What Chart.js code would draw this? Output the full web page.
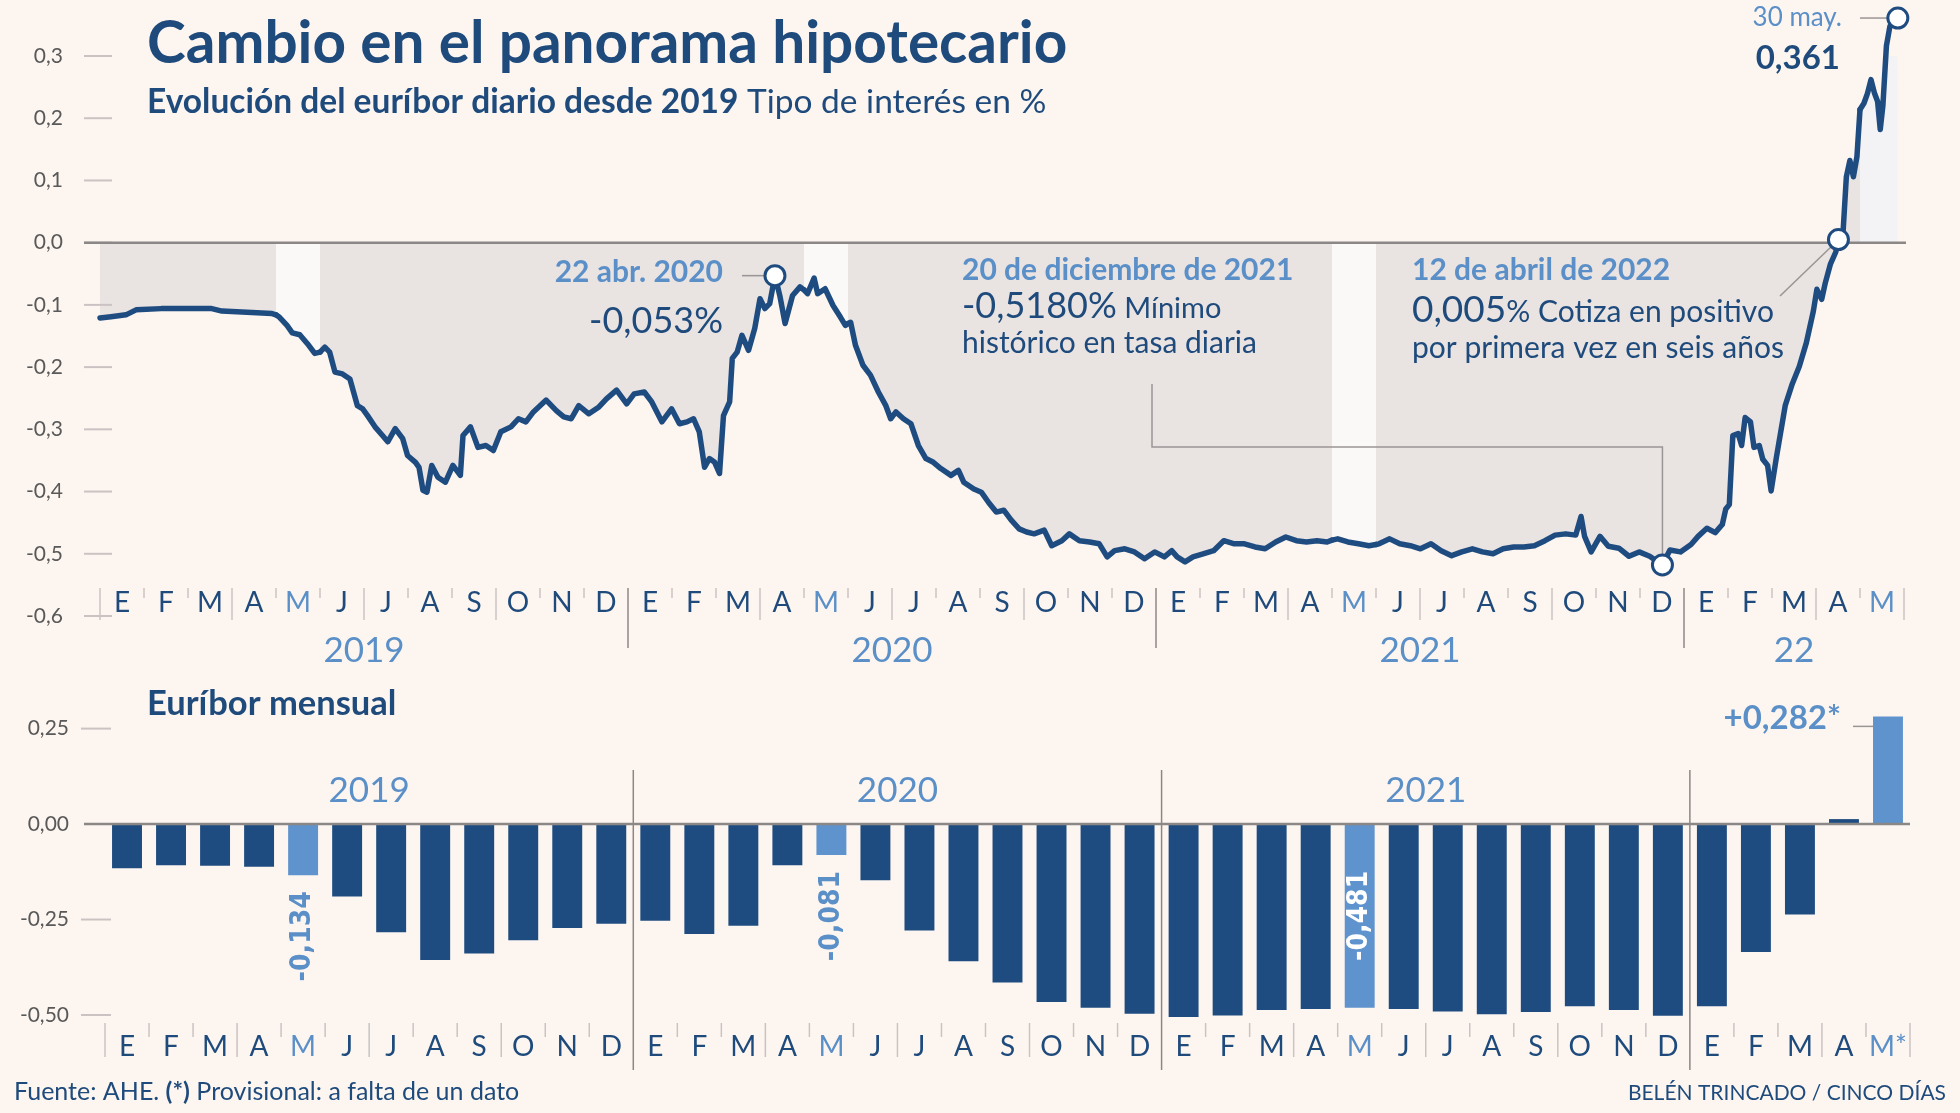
<!DOCTYPE html>
<html lang="es">
<head>
<meta charset="utf-8">
<title>Cambio en el panorama hipotecario</title>
<script src="https://cdn.jsdelivr.net/npm/chart.js@4.4.1/dist/chart.umd.min.js"></script>
<style>
  html,body{margin:0;padding:0;background:#fdf6f0;}
  #wrap{position:relative;width:1960px;height:1113px;overflow:hidden;background:#fdf6f0;}
  canvas{position:absolute;left:0;display:block;}
  #daily{top:0;width:1960px;height:680px;}
  #monthly{top:680px;width:1960px;height:433px;}
</style>
</head>
<body>
<div id="wrap">
  <canvas id="daily" width="1960" height="680"></canvas>
  <canvas id="monthly" width="1960" height="433"></canvas>
</div>
<script>
// ---------------- DATA ----------------
const monthLetters = ['E','F','M','A','M','J','J','A','S','O','N','D'];
const dailyYearLabels = ['2019','2020','2021','22'];
const monthlyYearLabels = ['2019','2020','2021'];
const dailyTicks = [0.3,0.2,0.1,0,-0.1,-0.2,-0.3,-0.4,-0.5,-0.6];
const dailyTickLabels = ['0,3','0,2','0,1','0,0','-0,1','-0,2','-0,3','-0,4','-0,5','-0,6'];
const monthlyTicks = [0.25,0,-0.25,-0.5];
const monthlyTickLabels = ['0,25','0,00','-0,25','-0,50'];

// Daily euribor: month of the year (decimal, 0 = 1 Jan) and rate in %
const t2019 = [0.00,0.25,0.59,0.82,1.39,1.97,2.54,2.77,3.11,3.68,3.91,4.00,4.08,4.25,4.37,4.54,4.71,4.88,5.00,5.11,5.22,5.34,5.51,5.68,5.85,5.97,6.08,6.25,6.42,6.54,6.71,6.88,6.99,7.17,7.25,7.34,7.43,7.54,7.68,7.85,8.02,8.19,8.25,8.42,8.59,8.77,8.94,9.11,9.34,9.51,9.68,9.85,10.14,10.37,10.54,10.71,10.88,11.11,11.34,11.51,11.74,11.97];
const r2019 = [-0.121,-0.119,-0.116,-0.108,-0.106,-0.106,-0.106,-0.110,-0.111,-0.113,-0.114,-0.116,-0.120,-0.133,-0.145,-0.148,-0.162,-0.178,-0.176,-0.168,-0.176,-0.208,-0.211,-0.219,-0.262,-0.267,-0.278,-0.296,-0.310,-0.320,-0.299,-0.315,-0.342,-0.353,-0.361,-0.398,-0.401,-0.358,-0.377,-0.385,-0.358,-0.374,-0.310,-0.296,-0.329,-0.326,-0.334,-0.304,-0.296,-0.283,-0.288,-0.272,-0.253,-0.270,-0.280,-0.283,-0.262,-0.275,-0.264,-0.251,-0.237,-0.259];
const t2020 = [0.14,0.37,0.54,0.77,0.99,1.17,1.34,1.49,1.62,1.74,1.85,1.97,2.08,2.17,2.31,2.37,2.48,2.59,2.74,2.88,3.00,3.11,3.22,3.34,3.45,3.57,3.74,3.91,4.00,4.08,4.23,4.31,4.48,4.66,4.83,4.94,5.00,5.06,5.17,5.34,5.51,5.69,5.86,5.97,6.09,6.26,6.43,6.60,6.77,6.94,7.11,7.34,7.51,7.63,7.86,8.03,8.20,8.37,8.54,8.71,8.89,9.06,9.23,9.46,9.63,9.86,10.03,10.26,10.49,10.71,10.89,11.06,11.29,11.51,11.74,11.97];
const r2020 = [-0.243,-0.240,-0.256,-0.288,-0.267,-0.291,-0.288,-0.283,-0.304,-0.361,-0.347,-0.353,-0.371,-0.278,-0.256,-0.186,-0.176,-0.149,-0.173,-0.138,-0.090,-0.106,-0.098,-0.053,-0.085,-0.130,-0.085,-0.071,-0.076,-0.082,-0.057,-0.082,-0.074,-0.101,-0.120,-0.133,-0.130,-0.128,-0.165,-0.197,-0.213,-0.240,-0.262,-0.283,-0.272,-0.283,-0.291,-0.326,-0.347,-0.353,-0.363,-0.374,-0.366,-0.385,-0.396,-0.401,-0.418,-0.433,-0.430,-0.446,-0.460,-0.465,-0.468,-0.462,-0.487,-0.479,-0.468,-0.479,-0.481,-0.484,-0.505,-0.495,-0.492,-0.497,-0.508,-0.497];
const t2021 = [0.19,0.36,0.48,0.66,0.84,1.07,1.31,1.54,1.78,2.01,2.25,2.48,2.72,2.95,3.19,3.42,3.66,3.89,4.00,4.13,4.36,4.60,4.84,5.00,5.07,5.31,5.54,5.78,6.01,6.25,6.48,6.72,6.95,7.19,7.42,7.66,7.89,8.13,8.36,8.60,8.84,9.07,9.31,9.54,9.66,9.74,9.89,10.09,10.28,10.52,10.75,10.98,11.22,11.51,11.68,11.92];
const r2021 = [-0.505,-0.495,-0.505,-0.513,-0.505,-0.500,-0.495,-0.479,-0.484,-0.484,-0.489,-0.492,-0.481,-0.473,-0.479,-0.481,-0.479,-0.481,-0.478,-0.476,-0.481,-0.484,-0.487,-0.485,-0.484,-0.476,-0.484,-0.487,-0.492,-0.484,-0.495,-0.503,-0.497,-0.492,-0.497,-0.500,-0.492,-0.489,-0.489,-0.487,-0.479,-0.470,-0.468,-0.470,-0.440,-0.472,-0.497,-0.472,-0.488,-0.491,-0.504,-0.497,-0.504,-0.518,-0.494,-0.497];
const t2022 = [0.16,0.32,0.52,0.71,0.87,0.95,1.03,1.11,1.23,1.31,1.39,1.51,1.59,1.71,1.79,1.90,1.98,2.10,2.30,2.46,2.62,2.78,2.94,3.02,3.13,3.21,3.33,3.45,3.51,3.61,3.69,3.77,3.85,3.93,4.00,4.09,4.17,4.25,4.33,4.40,4.46,4.52,4.60,4.68,4.86];
const r2022 = [-0.485,-0.472,-0.459,-0.466,-0.453,-0.428,-0.421,-0.310,-0.307,-0.326,-0.281,-0.288,-0.329,-0.326,-0.348,-0.358,-0.399,-0.345,-0.262,-0.227,-0.199,-0.161,-0.110,-0.075,-0.091,-0.065,-0.034,-0.015,0.005,0.011,0.106,0.132,0.106,0.138,0.214,0.224,0.240,0.262,0.240,0.227,0.182,0.220,0.316,0.348,0.361];

// Monthly euribor (%)
const monthly2019 = [-0.116,-0.108,-0.109,-0.112,-0.134,-0.190,-0.283,-0.356,-0.339,-0.304,-0.272,-0.261];
const monthly2020 = [-0.253,-0.288,-0.266,-0.108,-0.081,-0.147,-0.279,-0.359,-0.415,-0.466,-0.481,-0.497];
const monthly2021 = [-0.505,-0.501,-0.487,-0.484,-0.481,-0.484,-0.491,-0.498,-0.492,-0.477,-0.487,-0.502];
const monthly2022 = [-0.477,-0.335,-0.237,0.013,0.282];

// Highlighted daily points: [year index, month-of-year]
const dailyMarks = [[1,3.34],[2,11.51],[3,3.51],[3,4.86]];
// Labelled monthly bars: index and text
const monthlyNotes = [[4,'-0,134'],[16,'-0,081'],[28,'-0,481']];

// ---------------- BUILD ----------------
const dailySeries = [[t2019,r2019],[t2020,r2020],[t2021,r2021],[t2022,r2022]];
const dailyPoints = [];
dailySeries.forEach(([t,r],yi)=>t.forEach((m,i)=>dailyPoints.push({x:yi*12+m,y:r[i]})));
const monthlyValues = [].concat(monthly2019,monthly2020,monthly2021,monthly2022);
const monthsTotal = monthlyValues.length;
const monthlyLabels = monthlyValues.map((_,i)=>monthLetters[i%12]+(i===monthsTotal-1?'*':''));
const markPoints = dailyMarks.map(([yi,m])=>{const [t,r]=dailySeries[yi];const k=t.indexOf(m);return {x:yi*12+m,y:r[k]};});

const DARK='#1f4c80', LIGHT='#5e93cd', DARK_TXT='#1e4a7c', LIGHT_TXT='#5b8fc8';
const GRAY='#e9e3e2', MAYFILL='#fbf9f8', MAYPOS='#f3f2f5';
const AXIS='#8c8787', TICK='#cbc3c3', YLAB='#595959';
const F=(w,s,fam)=>`${w} ${s}px ${fam||'Lato'}`;

function seg(ctx,x1,y1,x2,y2){ctx.beginPath();ctx.moveTo(x1,y1);ctx.lineTo(x2,y2);ctx.stroke();}
function runs(ctx,parts,x,y,align){
  let total=0;
  parts.forEach(p=>{ctx.font=p.f;p.w=ctx.measureText(p.t).width;total+=p.w;});
  let cx = align==='right'?x-total:(align==='center'?x-total/2:x);
  ctx.textAlign='left';ctx.textBaseline='alphabetic';
  parts.forEach(p=>{ctx.font=p.f;ctx.fillStyle=p.c||DARK_TXT;ctx.fillText(p.t,cx,y);cx+=p.w;});
}
function circle(ctx,x,y){
  ctx.beginPath();ctx.arc(x,y,10,0,Math.PI*2);ctx.fillStyle='#ffffff';ctx.fill();
  ctx.lineWidth=3;ctx.strokeStyle=DARK;ctx.stroke();
}

const dailyDecor = {
  id:'dailyDecor',
  afterDatasetsDraw(chart){
    const {ctx,scales:{x,y}}=chart;
    const X=m=>x.getPixelForValue(m), Y=v=>y.getPixelForValue(v);
    const base=Y(-0.6);
    ctx.save();
    ctx.lineCap='butt';
    ctx.strokeStyle=TICK;ctx.lineWidth=2;
    dailyTicks.forEach(v=>seg(ctx,84,Y(v),112,Y(v)));
    ctx.strokeStyle=AXIS;ctx.lineWidth=2.5;
    seg(ctx,84,Y(0),X(monthsTotal)+2,Y(0));
    for(let m=0;m<=monthsTotal;m++){
      const px=X(m);
      if(m%12===0&&m>0&&m<monthsTotal){ctx.strokeStyle=AXIS;ctx.lineWidth=1.5;seg(ctx,px,base-28,px,base+32);}
      else{ctx.strokeStyle=TICK;ctx.lineWidth=1.5;seg(ctx,px,base-28,px,(m%3===0||m===monthsTotal)?base+4:base-18);}
    }
    ctx.font=F(400,28);ctx.textAlign='center';ctx.textBaseline='alphabetic';
    for(let m=0;m<monthsTotal;m++){ctx.fillStyle=(m%12===4)?LIGHT_TXT:DARK_TXT;ctx.fillText(monthLetters[m%12],X(m+0.5),base-4);}
    ctx.font=F(400,35);ctx.fillStyle=LIGHT_TXT;
    dailyYearLabels.forEach((lab,i)=>{const s=i*12,e=Math.min(s+12,monthsTotal);ctx.fillText(lab,X((s+e)/2),base+46);});
    // leaders + markers
    const p=markPoints.map(q=>({x:X(q.x),y:Y(q.y)}));
    ctx.strokeStyle='#9a9595';ctx.lineWidth=1.5;
    seg(ctx,742,p[0].y,p[0].x-10,p[0].y);
    ctx.beginPath();ctx.moveTo(1152,384);ctx.lineTo(1152,447);ctx.lineTo(p[1].x,447);ctx.lineTo(p[1].x,p[1].y-10);ctx.stroke();
    seg(ctx,1780,296,p[2].x-7,p[2].y+7);
    seg(ctx,1860,p[3].y,p[3].x-10,p[3].y);
    p.forEach(q=>circle(ctx,q.x,q.y));
    // texts
    runs(ctx,[{t:'22 abr. 2020',f:F(700,30),c:LIGHT_TXT}],723,282,'right');
    runs(ctx,[{t:'-0,053%',f:F(400,36)}],723,333,'right');
    runs(ctx,[{t:'20 de diciembre de 2021',f:F(700,30),c:LIGHT_TXT}],962,280);
    runs(ctx,[{t:'-0,5180%',f:F(400,36)},{t:' Mínimo',f:F(400,29)}],962,318);
    runs(ctx,[{t:'histórico en tasa diaria',f:F(400,30)}],962,353);
    runs(ctx,[{t:'12 de abril de 2022',f:F(700,30),c:LIGHT_TXT}],1412,280);
    runs(ctx,[{t:'0,005',f:F(400,37)},{t:'% Cotiza en positivo',f:F(400,30)}],1412,322);
    runs(ctx,[{t:'por primera vez en seis años',f:F(400,30)}],1412,358);
    runs(ctx,[{t:'30 may.',f:F(400,26),c:LIGHT_TXT}],1842,26,'right');
    runs(ctx,[{t:'0,361',f:F(700,33)}],1840,69,'right');
    runs(ctx,[{t:'Cambio en el panorama hipotecario',f:F(700,58.5)}],147,63);
    runs(ctx,[{t:'Evolución del euríbor diario desde 2019',f:F(700,33.5)},{t:' Tipo de interés en %',f:F(400,33.5)}],147,113);
    ctx.restore();
  }
};

const monthlyDecor = {
  id:'monthlyDecor',
  afterDatasetsDraw(chart){
    const {ctx,scales:{x,y},chartArea}=chart;
    const w=(chartArea.right-chartArea.left)/monthsTotal;
    const B=i=>chartArea.left+i*w;
    const Y=v=>y.getPixelForValue(v);
    const base=Y(-0.5);
    ctx.save();
    ctx.strokeStyle=TICK;ctx.lineWidth=2;
    monthlyTicks.forEach(v=>{if(v!==0)seg(ctx,81,Y(v),111,Y(v));});
    ctx.strokeStyle=AXIS;ctx.lineWidth=2.5;
    seg(ctx,84,Y(0),B(monthsTotal),Y(0));
    for(let m=0;m<=monthsTotal;m++){
      const px=B(m);
      if(m%12===0&&m>0&&m<monthsTotal){ctx.strokeStyle=AXIS;ctx.lineWidth=1.5;seg(ctx,px,base-245,px,base+55);}
      else{ctx.strokeStyle=TICK;ctx.lineWidth=1.5;seg(ctx,px,base+8,px,(m%3===0||m===monthsTotal)?base+42:base+22);}
    }
    ctx.font=F(400,28);ctx.textAlign='center';ctx.textBaseline='alphabetic';
    monthlyLabels.forEach((lab,i)=>{ctx.fillStyle=(i%12===4)?LIGHT_TXT:DARK_TXT;ctx.fillText(lab,x.getPixelForValue(i),base+41);});
    ctx.font=F(400,35);ctx.fillStyle=LIGHT_TXT;
    monthlyYearLabels.forEach((lab,i)=>{ctx.fillText(lab,B(i*12+6),base-213);});
    // rotated value labels
    const meta=chart.getDatasetMeta(0);
    monthlyNotes.forEach(([i,txt])=>{
      const bar=meta.data[i];
      const inside=Math.abs(bar.y-bar.base)>120;
      ctx.save();
      ctx.font=F(700,28,'DejaVu Sans');
      ctx.textBaseline='middle';
      if(inside){ctx.translate(bar.x,(bar.y+bar.base)/2);ctx.textAlign='center';ctx.fillStyle='#ffffff';}
      else{ctx.translate(bar.x,bar.y+16);ctx.textAlign='right';ctx.fillStyle=LIGHT_TXT;}
      ctx.rotate(-Math.PI/2);
      ctx.scale(0.9,1);
      ctx.fillText(txt,0,0);
      ctx.restore();
    });
    // last value note
    const last=meta.data[monthsTotal-1];
    ctx.strokeStyle='#9a9595';ctx.lineWidth=1.5;
    seg(ctx,1853,last.y+10,last.x-last.width/2,last.y+10);
    runs(ctx,[{t:'+0,282*',f:F(700,33),c:LIGHT_TXT}],1841,49,'right');
    runs(ctx,[{t:'Euríbor mensual',f:F(700,34.5)}],147,35);
    runs(ctx,[{t:'Fuente: AHE. ',f:F(400,25)},{t:'(*)',f:F(700,25)},{t:' Provisional: a falta de un dato',f:F(400,25)}],14,420);
    runs(ctx,[{t:'BELÉN TRINCADO / CINCO DÍAS',f:F(400,21)}],1946,420,'right');
    ctx.restore();
  }
};

Chart.defaults.font.family='Lato';

new Chart(document.getElementById('daily'),{
  type:'line',
  data:{datasets:[{
    data:dailyPoints,
    borderColor:DARK,borderWidth:5.5,pointRadius:0,tension:0,
    borderJoinStyle:'round',borderCapStyle:'round',clip:false,
    fill:'origin',backgroundColor:GRAY,
    segment:{backgroundColor:c=>{
      const mid=(c.p0.parsed.x+c.p1.parsed.x)/2;
      if(Math.floor(mid)%12===4) return (c.p0.parsed.y+c.p1.parsed.y)/2>0?MAYPOS:MAYFILL;
      return GRAY;
    }}
  }]},
  options:{
    responsive:false,animation:false,devicePixelRatio:1,events:[],
    layout:{padding:{top:56,bottom:64,right:56,left:0}},
    plugins:{legend:{display:false},tooltip:{enabled:false}},
    scales:{
      x:{type:'linear',min:0,max:monthsTotal,display:false},
      y:{min:-0.6,max:0.3,
        afterBuildTicks:s=>{s.ticks=dailyTicks.map(v=>({value:v}));},
        afterFit:s=>{s.width=100;},
        ticks:{callback:(v)=>dailyTickLabels[dailyTicks.indexOf(v)],font:{family:'Lato',size:21},color:YLAB,padding:37},
        grid:{display:false,drawTicks:false},border:{display:false}}
    }
  },
  plugins:[dailyDecor]
});

new Chart(document.getElementById('monthly'),{
  type:'bar',
  data:{labels:monthlyLabels,datasets:[{
    data:monthlyValues,
    backgroundColor:c=>(c.dataIndex%12===4)?LIGHT:DARK,
    categoryPercentage:1,barPercentage:0.68,borderWidth:0,clip:false
  }]},
  options:{
    responsive:false,animation:false,devicePixelRatio:1,events:[],
    layout:{padding:{top:39,bottom:98,right:50,left:0}},
    plugins:{legend:{display:false},tooltip:{enabled:false}},
    scales:{
      x:{display:false},
      y:{min:-0.5,max:0.25,
        afterBuildTicks:s=>{s.ticks=monthlyTicks.map(v=>({value:v}));},
        afterFit:s=>{s.width=105;},
        ticks:{callback:(v)=>monthlyTickLabels[monthlyTicks.indexOf(v)],font:{family:'Lato',size:21},color:YLAB,padding:36},
        grid:{display:false,drawTicks:false},border:{display:false}}
    }
  },
  plugins:[monthlyDecor]
});
</script>
</body>
</html>
